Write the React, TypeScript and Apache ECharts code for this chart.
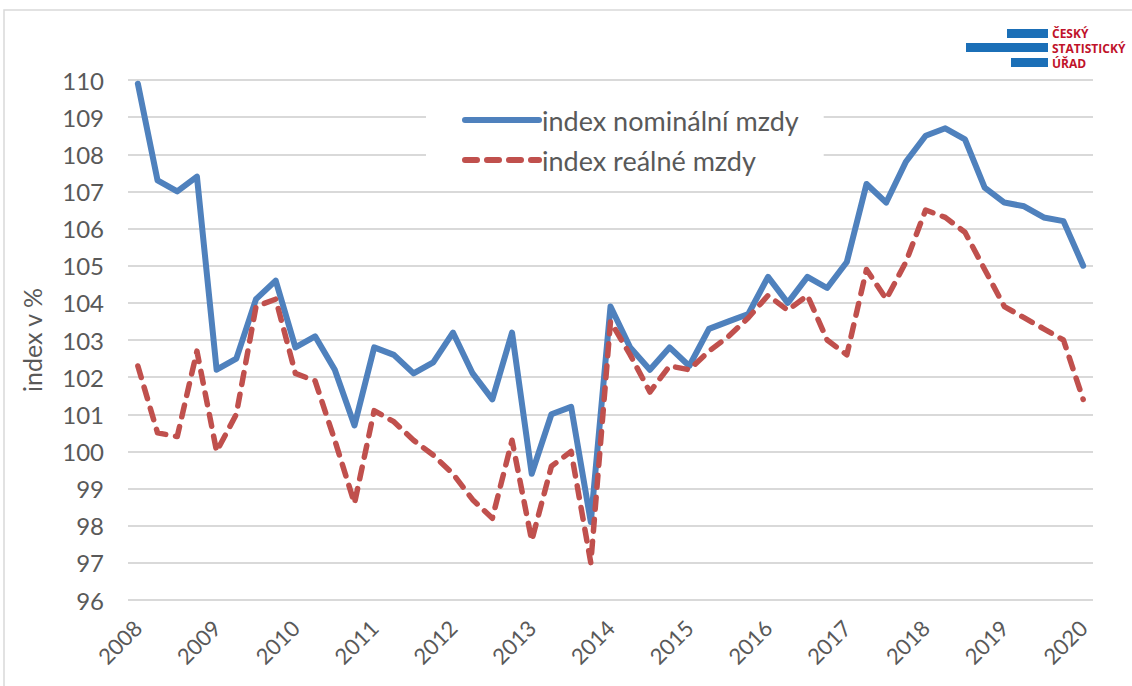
import React, { useEffect, useRef } from "react";
import * as echarts from "echarts";

const years = ["2008", "2009", "2010", "2011", "2012", "2013", "2014", "2015", "2016", "2017", "2018", "2019", "2020"];
const quarters = ["Q1", "Q2", "Q3", "Q4"];
const categories: string[] = years.flatMap((y) => (y === "2020" ? [y + "Q1"] : quarters.map((q) => y + q)));

const seriesNames = ["index nominální mzdy", "index reálné mzdy"];

const nominal = [
  109.9, 107.3, 107.0, 107.4,
  102.2, 102.5, 104.1, 104.6,
  102.8, 103.1, 102.2, 100.7,
  102.8, 102.6, 102.1, 102.4,
  103.2, 102.1, 101.4, 103.2,
  99.4, 101.0, 101.2, 98.1,
  103.9, 102.8, 102.2, 102.8,
  102.3, 103.3, 103.5, 103.7,
  104.7, 104.0, 104.7, 104.4,
  105.1, 107.2, 106.7, 107.8,
  108.5, 108.7, 108.4, 107.1,
  106.7, 106.6, 106.3, 106.2,
  105.0,
];

const real = [
  102.3, 100.5, 100.4, 102.7,
  100.0, 101.0, 103.9, 104.1,
  102.1, 101.9, 100.3, 98.6,
  101.1, 100.8, 100.3, 99.9,
  99.4, 98.7, 98.2, 100.3,
  97.6, 99.6, 100.0, 97.0,
  103.5, 102.6, 101.6, 102.3,
  102.2, 102.7, 103.1, 103.6,
  104.2, 103.8, 104.2, 103.0,
  102.6, 104.9, 104.1, 105.1,
  106.5, 106.3, 105.9, 104.9,
  103.9, 103.6, 103.3, 103.0,
  101.4,
];

const yAxisName = "index v %";
const logoLines = ["ČESKÝ", "STATISTICKÝ", "ÚŘAD"];

const FONT = "Lato, 'Open Sans', sans-serif";
const TEXT_COLOR = "#595959";

export default function App() {
  const ref = useRef<HTMLDivElement>(null);

  useEffect(() => {
    document.body.style.margin = "0";
    if (!ref.current) return;
    const chart = echarts.init(ref.current, undefined, { renderer: "svg" });
    chart.setOption({
      animation: false,
      backgroundColor: "#fff",
      textStyle: { fontFamily: FONT },
      grid: { left: 128, right: 39, top: 80, bottom: 86, containLabel: false },
      legend: {
        orient: "vertical",
        left: 426,
        top: 85,
        padding: [20, 25, 12, 36],
        backgroundColor: "#fff",
        itemWidth: 74,
        itemHeight: 14,
        itemGap: 10,
        data: seriesNames,
        itemStyle: { opacity: 0 },
        lineStyle: { width: 6, cap: "round" },
        textStyle: { fontSize: 27, color: TEXT_COLOR, fontFamily: FONT, lineHeight: 30, padding: [0, 0, 0, -2] },
        z: 5,
      },
      xAxis: {
        type: "category",
        data: categories,
        boundaryGap: true,
        axisLine: { show: false },
        axisTick: { show: false },
        splitLine: { show: false },
        axisLabel: {
          interval: 3,
          rotate: 45,
          fontSize: 22,
          color: TEXT_COLOR,
          margin: 24,
          fontFamily: FONT,
          formatter: (v: string) => v.slice(0, 4),
        },
      },
      yAxis: {
        type: "value",
        min: 96,
        max: 110,
        interval: 1,
        name: yAxisName,
        nameLocation: "middle",
        nameGap: 84,
        nameTextStyle: { fontSize: 25, color: TEXT_COLOR, fontFamily: FONT },
        axisLine: { show: false },
        axisTick: { show: false },
        axisLabel: { fontSize: 24, color: TEXT_COLOR, margin: 24, fontFamily: FONT },
        splitLine: { lineStyle: { color: "#d9d9d9", width: 2 } },
      },
      series: [
        {
          name: seriesNames[0],
          type: "line",
          data: nominal,
          symbol: "none",
          lineStyle: { color: "#4F81BD", width: 6, cap: "round", join: "round" },
          itemStyle: { color: "#4F81BD" },
          z: 3,
        },
        {
          name: seriesNames[1],
          type: "line",
          data: real,
          symbol: "none",
          lineStyle: { color: "#C0504D", width: 5.5, type: [12, 10], cap: "round", join: "round" },
          itemStyle: { color: "#C0504D" },
          z: 4,
        },
      ],
      graphic: [
        {
          type: "rect",
          shape: { x: 4, y: 10, width: 1200, height: 800 },
          style: { fill: "none", stroke: "#d9d9d9", lineWidth: 1.5 },
          silent: true,
          z: -1,
        },
        { type: "rect", shape: { x: 1007, y: 29, width: 41, height: 9 }, style: { fill: "#1b6fb7" } },
        { type: "rect", shape: { x: 966, y: 43, width: 82, height: 9 }, style: { fill: "#1b6fb7" } },
        { type: "rect", shape: { x: 1011, y: 58, width: 37, height: 9 }, style: { fill: "#1b6fb7" } },
        ...logoLines.map((t, i) => ({
          type: "text",
          x: 1052,
          y: 33.5 + i * 15,
          style: {
            text: t,
            fill: "#c0122a",
            fontSize: 12,
            lineHeight: 12,
            fontWeight: "bold",
            verticalAlign: "middle",
            fontFamily: "'Open Sans', 'Noto Sans', sans-serif",
          },
        })),
      ],
    });
    return () => chart.dispose();
  }, []);

  return <div ref={ref} style={{ position: "absolute", left: 0, top: 0, width: 1132, height: 686 }} />;
}
